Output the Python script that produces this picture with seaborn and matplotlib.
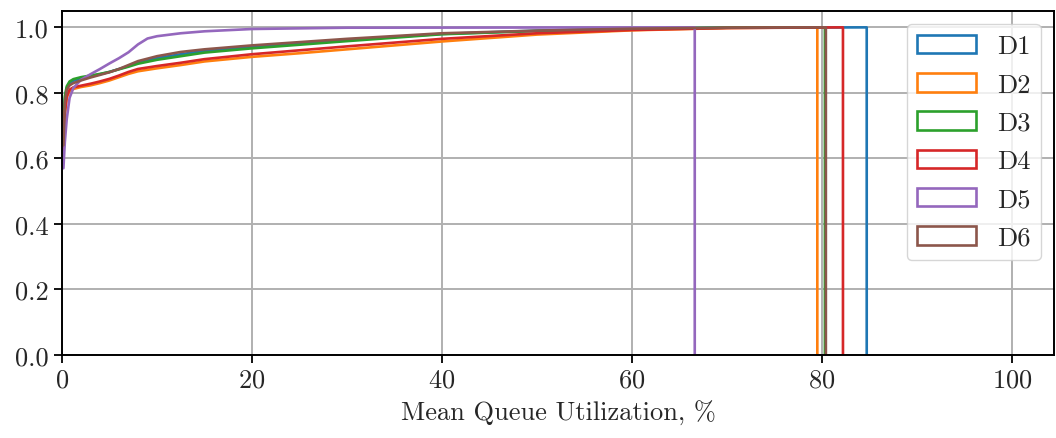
import numpy as np
import pandas as pd
import matplotlib
matplotlib.use("Agg")
import matplotlib.pyplot as plt
from matplotlib.patches import Patch
import seaborn as sns

# ---- data (CDF breakpoints) ----
series = ["D1", "D2", "D3", "D4", "D5", "D6"]

x_common = [0.15, 0.3, 0.5, 0.8, 1.2, 2, 3, 4, 5, 6, 7, 8, 10, 12.5, 15, 20, 25, 30, 40, 50, 60, 70]

d1_y = [0.66, 0.78, 0.815, 0.83, 0.837, 0.843, 0.850, 0.857, 0.864, 0.873, 0.882, 0.893, 0.906, 0.918,
        0.928, 0.941, 0.951, 0.962, 0.980, 0.990, 0.996, 0.999]
d2_y = [0.61, 0.73, 0.785, 0.805, 0.812, 0.818, 0.823, 0.830, 0.838, 0.848, 0.858, 0.866, 0.875, 0.885,
        0.896, 0.910, 0.921, 0.933, 0.957, 0.978, 0.991, 0.998]
d3_y = [0.70, 0.79, 0.82, 0.835, 0.842, 0.848, 0.853, 0.858, 0.864, 0.872, 0.880, 0.889, 0.901, 0.912,
        0.923, 0.936, 0.947, 0.958, 0.979, 0.989, 0.996, 0.999]
d4_y = [0.62, 0.74, 0.79, 0.81, 0.817, 0.822, 0.828, 0.835, 0.843, 0.853, 0.864, 0.873, 0.882, 0.892,
        0.903, 0.918, 0.930, 0.942, 0.965, 0.982, 0.992, 0.998]
d6_y = [0.64, 0.77, 0.81, 0.823, 0.83, 0.838, 0.847, 0.855, 0.863, 0.873, 0.885, 0.897, 0.912, 0.925,
        0.933, 0.945, 0.955, 0.965, 0.982, 0.990, 0.996, 0.999]

d5_x = [0.15, 0.3, 0.5, 0.8, 1.2, 2, 3, 4, 5, 6, 7, 8, 9, 10, 12.5, 15, 20, 30]
d5_y = [0.57, 0.65, 0.72, 0.785, 0.815, 0.840, 0.857, 0.873, 0.890, 0.906, 0.924, 0.948, 0.966, 0.973,
        0.982, 0.988, 0.995, 0.999]

max_util = [84.7, 79.5, 80.3, 82.2, 66.6, 80.4]

xs = [x_common, x_common, x_common, x_common, d5_x, x_common]
ys = [d1_y, d2_y, d3_y, d4_y, d5_y, d6_y]

rows = []
for name, xv, yv, mx in zip(series, xs, ys, max_util):
    px = list(xv) + [mx, mx]
    py = list(yv) + [1.0, 0.0]
    for i, (a, b) in enumerate(zip(px, py)):
        rows.append({"series": name, "x": a, "y": b, "order": i})
df = pd.DataFrame(rows)

# ---- style ----
sns.set_style("ticks")
plt.rcParams["font.family"] = ["cmr10", "DejaVu Serif"]
plt.rcParams["mathtext.fontset"] = "cm"
plt.rcParams["axes.formatter.use_mathtext"] = True
plt.rcParams["axes.unicode_minus"] = False
FS = 19

palette = sns.color_palette("tab10", 6)

fig = plt.figure(figsize=(10.56, 4.39), dpi=100)
ax = fig.add_axes([0.0587, 0.189, 0.9393, 0.7837])

sns.lineplot(data=df, x="x", y="y", hue="series", palette=palette, estimator=None,
             sort=False, units="series", linewidth=1.9, legend=False, ax=ax)

ax.set_xlim(0, 104.4)
ax.set_ylim(0, 1.05)
ax.set_xticks([0, 20, 40, 60, 80, 100])
ax.set_yticks([0.0, 0.2, 0.4, 0.6, 0.8, 1.0])
ax.set_yticklabels(["0.0", "0.2", "0.4", "0.6", "0.8", "1.0"])
ax.grid(True, color="#b0b0b0", linewidth=1.4)
ax.set_axisbelow(True)
ax.set_xlabel("Mean Queue Utilization, %", fontsize=FS, labelpad=6)
ax.set_ylabel("")
ax.tick_params(labelsize=FS, length=6, width=1.3, color="black", direction="out")
for s in ax.spines.values():
    s.set_linewidth(1.4)
    s.set_color("black")

handles = [Patch(facecolor="none", edgecolor=c, linewidth=1.9, label=n) for n, c in zip(series, palette)]
ax.legend(handles=handles, loc="upper right", fontsize=FS, handlelength=2.2, frameon=True,
          borderaxespad=0.5, labelspacing=0.55)

fig.savefig("out.png", dpi=100)
